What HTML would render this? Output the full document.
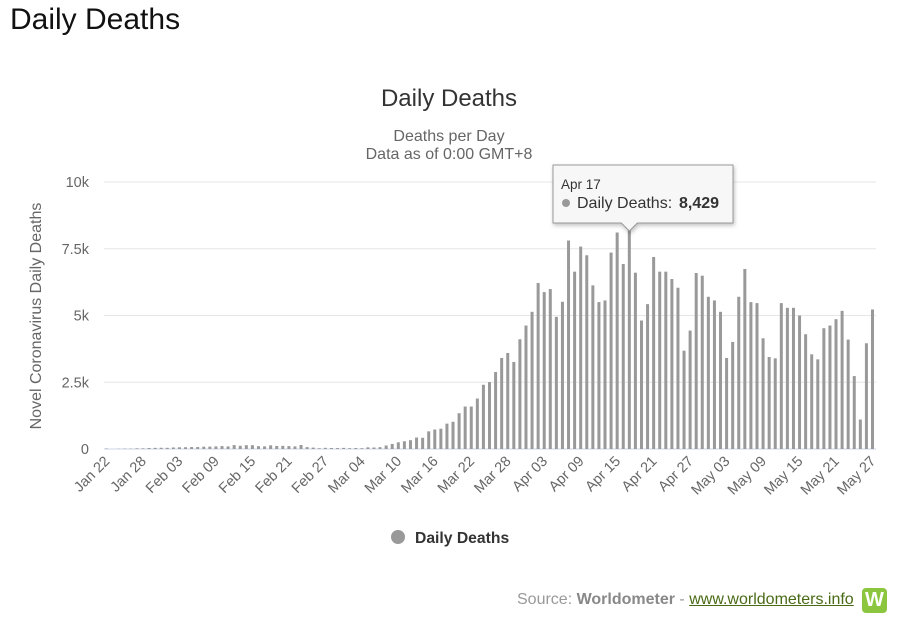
<!DOCTYPE html>
<html><head><meta charset="utf-8"><style>
body{margin:0;width:906px;height:628px;background:#fff;font-family:"Liberation Sans",sans-serif;overflow:hidden;position:relative}
h1{position:absolute;left:10px;top:3px;margin:0;font-weight:normal;font-size:30px;color:#111}
.src{position:absolute;left:517px;top:591px;font-size:16px;color:#999}
.src b{color:#888}.src a{color:#4a6b15;text-decoration:underline}
.logo{position:absolute;left:862px;top:588px;width:25px;height:25px;background:#8cc63e;border-radius:4px;color:#fff;font-weight:bold;font-size:20px;text-align:center;line-height:25px}
</style></head><body>
<h1>Daily Deaths</h1>
<svg id="c" width="906" height="580" style="position:absolute;left:0;top:0" font-family="Liberation Sans, DejaVu Sans, sans-serif"></svg>
<div class="src">Source: <b>Worldometer</b> - <a>www.worldometers.info</a></div>
<div class="logo">W</div>
<script>
const categories=["Jan 22","Jan 28","Feb 03","Feb 09","Feb 15","Feb 21","Feb 27","Mar 04","Mar 10","Mar 16","Mar 22","Mar 28","Apr 03","Apr 09","Apr 15","Apr 21","Apr 27","May 03","May 09","May 15","May 21","May 27"];
const yTicks=[0,2500,5000,7500,10000];
const yTickLabels=["0","2.5k","5k","7.5k","10k"];
const deaths=[17,1,8,16,14,26,26,38,43,46,45,57,64,66,
73,73,86,89,97,108,97,146,121,143,142,105,98,136,114,118,109,97,150,71,
52,29,44,37,35,42,31,38,31,62,56,69,130,190,250,290,330,430,420,660,730,760,950,1020,1340,1590,1590,1890,
2406,2506,2882,3409,3597,3258,4110,4624,5138,6216,5877,5990,4950,5514,7807,6642,7581,7256,6128,5501,5564,7356,8108,6930,8429,6604,4812,5426,7193,6642,6642,6366,6040,3684,4436,6591,6491,5702,5564,5138,3409,4010,5702,6742,5501,5464,4148,3446,3396,5464,5288,5288,5000,4298,3546,3358,4524,4624,4862,5175,4098,2732,1103,3960,5226];
const tooltipDate="Apr 17";
const NS="http://www.w3.org/2000/svg",svg=document.getElementById('c');
function mk(t,a,txt){const e=document.createElementNS(NS,t);for(const k in a)e.setAttribute(k,a[k]);if(txt!=null)e.textContent=txt;svg.appendChild(e);return e;}
const n=deaths.length,x0=106.5,x1=872.5;
const xs=i=>x0+i*(x1-x0)/(n-1);
const ys=v=>449-v*(449-182)/10000;
yTicks.forEach((v,i)=>{
 const g=mk('line',{x1:104,x2:876,y1:ys(v),y2:ys(v),stroke:i==0?'#ccd6eb':'#e6e6e6','stroke-width':1});
 
 const t=mk('text',{x:89,y:ys(v)+5,'text-anchor':'end','font-size':14.5,fill:'#666'},yTickLabels[i]);
 
});
deaths.forEach((v,i)=>{
 const r=mk('rect',{x:xs(i)-1.5,y:ys(v),width:3,height:449-ys(v),fill:'#999'});
 
});
categories.forEach((c,k)=>{
 const x=xs(k*6);
 const t=mk('text',{x:x+4,y:462,'text-anchor':'end','font-size':14.5,fill:'#666',transform:`rotate(-45 ${x+4} 462)`},c);
 
});
let t;
t=mk('text',{x:449,y:106,'text-anchor':'middle','font-size':24,fill:'#333'},'Daily Deaths');
t=mk('text',{x:449,y:141,'text-anchor':'middle','font-size':16,fill:'#666'},'Deaths per Day');
t=mk('text',{x:449,y:159,'text-anchor':'middle','font-size':16,fill:'#666'},'Data as of 0:00 GMT+8');
t=mk('text',{x:41,y:316,'text-anchor':'middle','font-size':16,fill:'#666',transform:'rotate(-90 41 316)'},'Novel Coronavirus Daily Deaths');
t=mk('circle',{cx:398,cy:537,r:7,fill:'#999'});
t=mk('text',{x:415,y:543,'font-size':15.7,'font-weight':'bold',fill:'#333'},'Daily Deaths');
const ti=deaths.indexOf(Math.max(...deaths)),tx=xs(ti);
t=mk('path',{d:`M553 165 H733 V223 H${tx+8} L${tx} 231 L${tx-8} 223 H553 Z`,fill:'#f7f7f7',stroke:'#999','stroke-width':1,style:'filter:drop-shadow(1px 2px 2px rgba(0,0,0,.25))'});
t=mk('text',{x:561,y:189,'font-size':13.5,fill:'#333'},tooltipDate);
t=mk('circle',{cx:566,cy:203,r:4,fill:'#999'});
t=mk('text',{x:577,y:208,'font-size':16,fill:'#333'},'Daily Deaths:');
t=mk('text',{x:679,y:208,'font-size':16,'font-weight':'bold',fill:'#333'},deaths[ti].toLocaleString('en-US'));
</script>
</body></html>
